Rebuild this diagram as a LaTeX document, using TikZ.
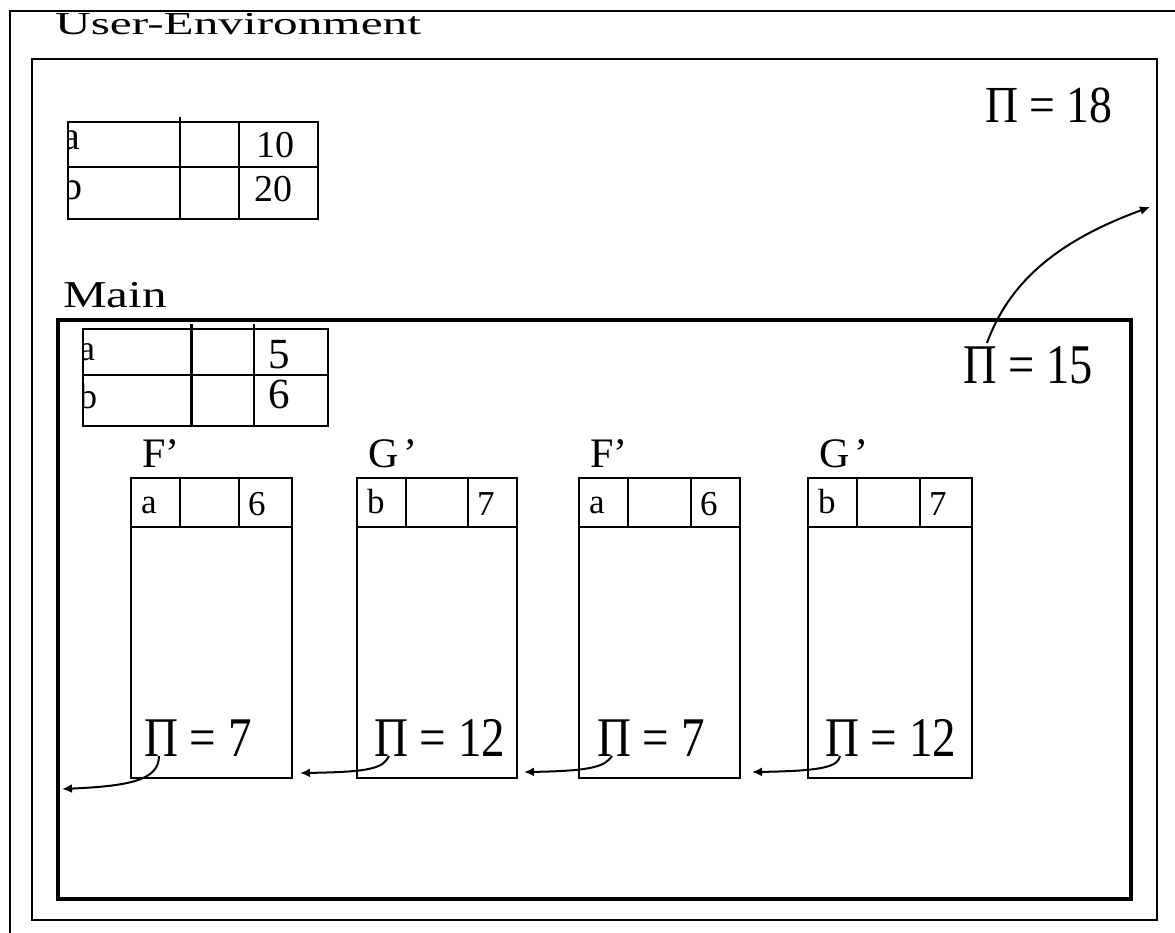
\documentclass[tikz,border=0pt]{standalone}
\usepackage{fontspec}
\setmainfont{Liberation Serif}
\usetikzlibrary{arrows.meta}
\newcommand\sx[2]{\scalebox{#1}[1]{#2}}
\tikzset{
  lbl/.style={inner sep=0pt, anchor=base west, font=\fontsize{#1}{#1}\selectfont},
  outerline/.style={line width=1.8pt},
  envline/.style={line width=2.5pt},
  mainline/.style={line width=3.5pt},
  tabline/.style={line width=2pt},
  conn/.style={line width=2pt, -{Latex[length=10pt,width=9pt]}},
}
\begin{document}
\begin{tikzpicture}[x=1pt,y=-1pt]
\useasboundingbox (0,0) rectangle (1175,933);
% outer frame (only left and top visible)
\draw[outerline] (10,940) -- (10,11) -- (1180,11);
\node[lbl=32] (title) at (55,35) {\sx{1.54}{User-Environment}};
% user environment box
\draw[envline] (32,59) rectangle (1157,920);
\node[lbl=52] (pi18) at (985,123) {\sx{0.88}{Π = 18}};
% table 1
\draw[tabline] (68,122) rectangle (318,219);
\draw[tabline] (68,167) -- (318,167);
\draw[tabline] (180,117) -- (180,219);
\draw[tabline] (239,122) -- (239,219);
\begin{scope}
  \clip (68,122) rectangle (318,219);
  \node[lbl=40] (t1a) at (62,150) {a};
  \node[lbl=40] (t1b) at (62,200) {b};
\end{scope}
\node[lbl=38] (t1v1) at (256,158) {10};
\node[lbl=38] (t1v2) at (254,202) {20};
% main
\node[lbl=38] (mainlbl) at (63,308) {\sx{1.29}{Main}};
\draw[mainline] (58,320) rectangle (1131,899);
\node[lbl=56] (pi15) at (963,383) {\sx{0.83}{Π = 15}};
% table 2
\draw[tabline] (83,329) rectangle (328,426);
\draw[tabline] (83,375) -- (328,375);
\draw[line width=3pt] (191,324) -- (191,426);
\draw[tabline] (254,324) -- (254,426);
\begin{scope}
  \clip (83,329) rectangle (328,426);
  \node[lbl=36] (t2a) at (79,360) {a};
  \node[lbl=36] (t2b) at (79,408) {b};
\end{scope}
\node[lbl=43] (t2v1) at (268,368) {5};
\node[lbl=43] (t2v2) at (268,408) {6};
% frames
\foreach \l/\ca/\cb/\r/\lab/\var/\val/\pv/\px/\n in
  {131/180/239/292/F’/a/6/7/144/1,
   357/406/468/517/G\kern5pt’/b/7/12/374/2,
   579/628/691/740/F’/a/6/7/597/3,
   808/857/920/972/G\kern5pt’/b/7/12/825/4}{
  \draw[tabline] (\l,478) rectangle (\r,778);
  \draw[tabline] (\l,527) -- (\r,527);
  \draw[line width=2.5pt] (\ca,478) -- (\ca,527);
  \draw[tabline] (\cb,478) -- (\cb,527);
  \node[lbl=42] (lab\n) at (\l+11,467) {\lab};
  \node[lbl=35] (var\n) at (\l+10,513) {\var};
  \node[lbl=35] (val\n) at (\cb+9,515) {\val};
  \node[lbl=56] (pi\n) at (\px,756) {\sx{0.84}{Π = \pv}};
  \coordinate (s\n) at (\px+15,756);
}
% connector end points
\coordinate (s15) at (987,343);
\coordinate (e15) at (1150,207);
\coordinate (e1) at (62,789);
\coordinate (e2) at (300,773);
\coordinate (e3) at (524,772);
\coordinate (e4) at (752,772);
% connectors
\draw[conn] (s15) .. controls (1010,280) and (1060,240) .. (e15);
\draw[conn] (s1) .. controls (159,780) and (130,786) .. (e1);
\draw[conn] (s2) .. controls (383,768) and (372,772) .. (e2);
\draw[conn] (s3) .. controls (605,766) and (594,771) .. (e3);
\draw[conn] (s4) .. controls (838,766) and (826,771) .. (e4);
\end{tikzpicture}
\end{document}
